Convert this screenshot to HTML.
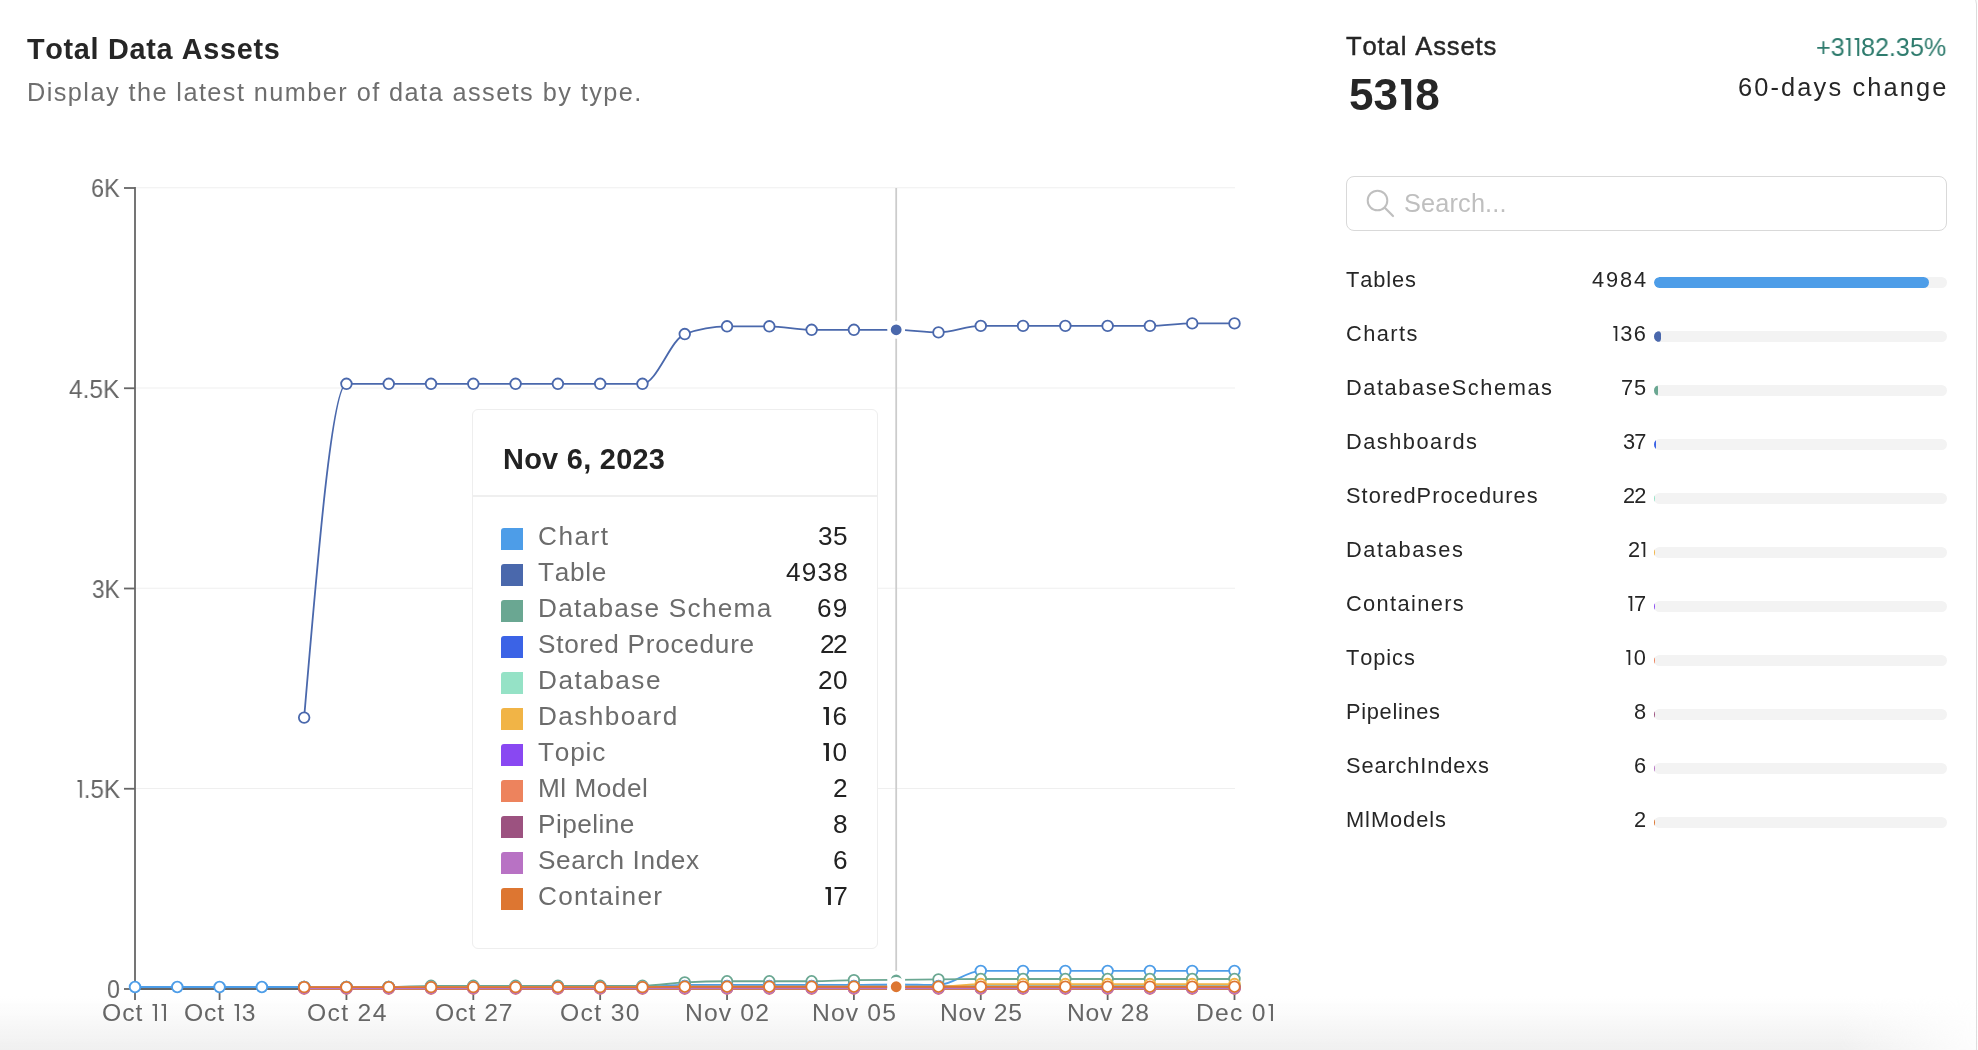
<!DOCTYPE html>
<html><head><meta charset="utf-8"><title>Total Data Assets</title>
<style>
*{box-sizing:border-box;margin:0;padding:0}
html,body{width:1978px;height:1050px;overflow:hidden;background:#fff;font-family:"Liberation Sans",sans-serif}
.page{position:relative;width:1978px;height:1050px;overflow:hidden;background:#fff}
.card{position:absolute;left:-30px;top:-7px;width:2007px;height:1120px;border:1px solid #dcdcdc;border-radius:11px;background:#fff}
.t{position:absolute;white-space:nowrap;will-change:transform;font-kerning:none}
.o{display:inline-block;position:relative;height:1px}
.o svg{position:absolute;left:0;bottom:0}
.chart{position:absolute;left:0;top:0}
.search{position:absolute;left:1346px;top:176px;width:601px;height:55px;border:1.5px solid #d9d9d9;border-radius:8px;background:#fff}
.bar{position:absolute;left:1654px;width:293px;height:11px;border-radius:6px;background:#f3f3f3;overflow:hidden}
.bar .fill{height:11px;border-radius:6px}
.tip{position:absolute;left:472px;top:408.5px;width:406px;height:540.5px;border:1.5px solid #eeeeee;border-radius:6px;background:#fff}
.tipdiv{position:absolute;left:473px;top:495px;width:404px;height:1.5px;background:#efefef}
.sw{position:absolute;left:501px;width:22px;height:22px;border-radius:3px 0 0 0}
.fade{position:absolute;left:0;top:996px;width:1978px;height:54px;background:linear-gradient(to bottom,rgba(240,240,240,0),rgba(240,240,240,0.3) 35%,rgba(240,240,240,0.7) 70%,rgba(240,240,240,1));-webkit-mask-image:linear-gradient(to right,#000 1840px,rgba(0,0,0,0.15) 1975px);mask-image:linear-gradient(to right,#000 1840px,rgba(0,0,0,0.15) 1975px);pointer-events:none}
</style></head><body><div class="page">
<div class="card"></div>
<div class="fade"></div>
<svg class="chart" width="1978" height="1050" viewBox="0 0 1978 1050">
<line x1="136.0" y1="788.45" x2="1235" y2="788.45" stroke="#efefef" stroke-width="1.1"/>
<line x1="136.0" y1="588.20" x2="1235" y2="588.20" stroke="#efefef" stroke-width="1.1"/>
<line x1="136.0" y1="387.95" x2="1235" y2="387.95" stroke="#efefef" stroke-width="1.1"/>
<line x1="136.0" y1="187.70" x2="1235" y2="187.70" stroke="#efefef" stroke-width="1.1"/>
<line x1="896.19" y1="188.00" x2="896.19" y2="989.00" stroke="#cccccc" stroke-width="1.8"/>
<line x1="135.0" y1="187.10" x2="135.0" y2="989.90" stroke="#666" stroke-width="1.8"/>
<line x1="134.1" y1="989.00" x2="1235.4" y2="989.00" stroke="#666" stroke-width="1.8"/>
<line x1="124.0" y1="989.00" x2="135.0" y2="989.00" stroke="#666" stroke-width="1.8"/>
<line x1="124.0" y1="788.75" x2="135.0" y2="788.75" stroke="#666" stroke-width="1.8"/>
<line x1="124.0" y1="588.50" x2="135.0" y2="588.50" stroke="#666" stroke-width="1.8"/>
<line x1="124.0" y1="388.25" x2="135.0" y2="388.25" stroke="#666" stroke-width="1.8"/>
<line x1="124.0" y1="188.00" x2="135.0" y2="188.00" stroke="#666" stroke-width="1.8"/>
<line x1="135.00" y1="989.00" x2="135.00" y2="1000.00" stroke="#666" stroke-width="1.8"/>
<line x1="219.58" y1="989.00" x2="219.58" y2="1000.00" stroke="#666" stroke-width="1.8"/>
<line x1="346.44" y1="989.00" x2="346.44" y2="1000.00" stroke="#666" stroke-width="1.8"/>
<line x1="473.31" y1="989.00" x2="473.31" y2="1000.00" stroke="#666" stroke-width="1.8"/>
<line x1="600.17" y1="989.00" x2="600.17" y2="1000.00" stroke="#666" stroke-width="1.8"/>
<line x1="727.04" y1="989.00" x2="727.04" y2="1000.00" stroke="#666" stroke-width="1.8"/>
<line x1="853.90" y1="989.00" x2="853.90" y2="1000.00" stroke="#666" stroke-width="1.8"/>
<line x1="980.77" y1="989.00" x2="980.77" y2="1000.00" stroke="#666" stroke-width="1.8"/>
<line x1="1107.63" y1="989.00" x2="1107.63" y2="1000.00" stroke="#666" stroke-width="1.8"/>
<line x1="1234.50" y1="989.00" x2="1234.50" y2="1000.00" stroke="#666" stroke-width="1.8"/>
<path d="M135.00,987.00C149.10,987.00,163.19,987.00,177.29,987.00C191.38,987.00,205.48,987.00,219.58,987.00C233.67,987.00,247.77,987.00,261.87,987.00C275.96,987.00,290.06,987.00,304.15,987.00C318.25,987.00,332.35,987.00,346.44,987.00C360.54,987.00,374.63,987.00,388.73,987.00C402.83,987.00,416.92,987.00,431.02,987.00C445.12,987.00,459.21,987.00,473.31,987.00C487.40,987.00,501.50,987.00,515.60,987.00C529.69,987.00,543.79,987.00,557.88,987.00C571.98,987.00,586.08,987.00,600.17,987.00C614.27,987.00,628.37,987.00,642.46,987.00C656.56,987.00,670.65,984.86,684.75,984.86C698.85,984.86,712.94,984.86,727.04,984.86C741.13,984.86,755.23,984.86,769.33,984.86C783.42,984.86,797.52,984.86,811.62,984.86C825.71,984.86,839.81,984.86,853.90,984.86C868.00,984.86,882.10,984.33,896.19,984.33C910.29,984.33,924.38,985.00,938.48,985.00C952.58,985.00,966.67,970.84,980.77,970.84C994.87,970.84,1008.96,970.84,1023.06,970.84C1037.15,970.84,1051.25,970.84,1065.35,970.84C1079.44,970.84,1093.54,970.84,1107.63,970.84C1121.73,970.84,1135.83,970.84,1149.92,970.84C1164.02,970.84,1178.12,970.84,1192.21,970.84C1206.31,970.84,1220.40,970.84,1234.50,970.84" fill="none" stroke="#4d9de8" stroke-width="1.8"/>
<circle cx="135.00" cy="987.00" r="5.3" fill="#fff" stroke="#4d9de8" stroke-width="1.8"/>
<circle cx="177.29" cy="987.00" r="5.3" fill="#fff" stroke="#4d9de8" stroke-width="1.8"/>
<circle cx="219.58" cy="987.00" r="5.3" fill="#fff" stroke="#4d9de8" stroke-width="1.8"/>
<circle cx="261.87" cy="987.00" r="5.3" fill="#fff" stroke="#4d9de8" stroke-width="1.8"/>
<circle cx="304.15" cy="987.00" r="5.3" fill="#fff" stroke="#4d9de8" stroke-width="1.8"/>
<circle cx="346.44" cy="987.00" r="5.3" fill="#fff" stroke="#4d9de8" stroke-width="1.8"/>
<circle cx="388.73" cy="987.00" r="5.3" fill="#fff" stroke="#4d9de8" stroke-width="1.8"/>
<circle cx="431.02" cy="987.00" r="5.3" fill="#fff" stroke="#4d9de8" stroke-width="1.8"/>
<circle cx="473.31" cy="987.00" r="5.3" fill="#fff" stroke="#4d9de8" stroke-width="1.8"/>
<circle cx="515.60" cy="987.00" r="5.3" fill="#fff" stroke="#4d9de8" stroke-width="1.8"/>
<circle cx="557.88" cy="987.00" r="5.3" fill="#fff" stroke="#4d9de8" stroke-width="1.8"/>
<circle cx="600.17" cy="987.00" r="5.3" fill="#fff" stroke="#4d9de8" stroke-width="1.8"/>
<circle cx="642.46" cy="987.00" r="5.3" fill="#fff" stroke="#4d9de8" stroke-width="1.8"/>
<circle cx="684.75" cy="984.86" r="5.3" fill="#fff" stroke="#4d9de8" stroke-width="1.8"/>
<circle cx="727.04" cy="984.86" r="5.3" fill="#fff" stroke="#4d9de8" stroke-width="1.8"/>
<circle cx="769.33" cy="984.86" r="5.3" fill="#fff" stroke="#4d9de8" stroke-width="1.8"/>
<circle cx="811.62" cy="984.86" r="5.3" fill="#fff" stroke="#4d9de8" stroke-width="1.8"/>
<circle cx="853.90" cy="984.86" r="5.3" fill="#fff" stroke="#4d9de8" stroke-width="1.8"/>
<circle cx="896.19" cy="984.33" r="7.2" fill="#4d9de8" stroke="#fff" stroke-width="3.6"/>
<circle cx="938.48" cy="985.00" r="5.3" fill="#fff" stroke="#4d9de8" stroke-width="1.8"/>
<circle cx="980.77" cy="970.84" r="5.3" fill="#fff" stroke="#4d9de8" stroke-width="1.8"/>
<circle cx="1023.06" cy="970.84" r="5.3" fill="#fff" stroke="#4d9de8" stroke-width="1.8"/>
<circle cx="1065.35" cy="970.84" r="5.3" fill="#fff" stroke="#4d9de8" stroke-width="1.8"/>
<circle cx="1107.63" cy="970.84" r="5.3" fill="#fff" stroke="#4d9de8" stroke-width="1.8"/>
<circle cx="1149.92" cy="970.84" r="5.3" fill="#fff" stroke="#4d9de8" stroke-width="1.8"/>
<circle cx="1192.21" cy="970.84" r="5.3" fill="#fff" stroke="#4d9de8" stroke-width="1.8"/>
<circle cx="1234.50" cy="970.84" r="5.3" fill="#fff" stroke="#4d9de8" stroke-width="1.8"/>
<path d="M304.15,717.60C318.25,550.70,332.35,383.80,346.44,383.80C360.54,383.80,374.63,383.80,388.73,383.80C402.83,383.80,416.92,383.80,431.02,383.80C445.12,383.80,459.21,383.80,473.31,383.80C487.40,383.80,501.50,383.80,515.60,383.80C529.69,383.80,543.79,383.80,557.88,383.80C571.98,383.80,586.08,383.80,600.17,383.80C614.27,383.80,628.37,383.80,642.46,383.80C656.56,383.80,670.65,339.22,684.75,334.05C698.85,328.88,712.94,326.30,727.04,326.30C741.13,326.30,755.23,326.30,769.33,326.30C783.42,326.30,797.52,329.80,811.62,329.80C825.71,329.80,839.81,329.80,853.90,329.80C868.00,329.80,882.10,329.80,896.19,329.80C910.29,329.80,924.38,332.40,938.48,332.40C952.58,332.40,966.67,325.90,980.77,325.90C994.87,325.90,1008.96,325.90,1023.06,325.90C1037.15,325.90,1051.25,325.90,1065.35,325.90C1079.44,325.90,1093.54,325.90,1107.63,325.90C1121.73,325.90,1135.83,325.90,1149.92,325.90C1164.02,325.90,1178.12,323.40,1192.21,323.40C1206.31,323.40,1220.40,323.40,1234.50,323.40" fill="none" stroke="#4a68ac" stroke-width="1.8"/>
<circle cx="304.15" cy="717.60" r="5.3" fill="#fff" stroke="#4a68ac" stroke-width="1.8"/>
<circle cx="346.44" cy="383.80" r="5.3" fill="#fff" stroke="#4a68ac" stroke-width="1.8"/>
<circle cx="388.73" cy="383.80" r="5.3" fill="#fff" stroke="#4a68ac" stroke-width="1.8"/>
<circle cx="431.02" cy="383.80" r="5.3" fill="#fff" stroke="#4a68ac" stroke-width="1.8"/>
<circle cx="473.31" cy="383.80" r="5.3" fill="#fff" stroke="#4a68ac" stroke-width="1.8"/>
<circle cx="515.60" cy="383.80" r="5.3" fill="#fff" stroke="#4a68ac" stroke-width="1.8"/>
<circle cx="557.88" cy="383.80" r="5.3" fill="#fff" stroke="#4a68ac" stroke-width="1.8"/>
<circle cx="600.17" cy="383.80" r="5.3" fill="#fff" stroke="#4a68ac" stroke-width="1.8"/>
<circle cx="642.46" cy="383.80" r="5.3" fill="#fff" stroke="#4a68ac" stroke-width="1.8"/>
<circle cx="684.75" cy="334.05" r="5.3" fill="#fff" stroke="#4a68ac" stroke-width="1.8"/>
<circle cx="727.04" cy="326.30" r="5.3" fill="#fff" stroke="#4a68ac" stroke-width="1.8"/>
<circle cx="769.33" cy="326.30" r="5.3" fill="#fff" stroke="#4a68ac" stroke-width="1.8"/>
<circle cx="811.62" cy="329.80" r="5.3" fill="#fff" stroke="#4a68ac" stroke-width="1.8"/>
<circle cx="853.90" cy="329.80" r="5.3" fill="#fff" stroke="#4a68ac" stroke-width="1.8"/>
<circle cx="896.19" cy="329.80" r="7.2" fill="#4a68ac" stroke="#fff" stroke-width="3.6"/>
<circle cx="938.48" cy="332.40" r="5.3" fill="#fff" stroke="#4a68ac" stroke-width="1.8"/>
<circle cx="980.77" cy="325.90" r="5.3" fill="#fff" stroke="#4a68ac" stroke-width="1.8"/>
<circle cx="1023.06" cy="325.90" r="5.3" fill="#fff" stroke="#4a68ac" stroke-width="1.8"/>
<circle cx="1065.35" cy="325.90" r="5.3" fill="#fff" stroke="#4a68ac" stroke-width="1.8"/>
<circle cx="1107.63" cy="325.90" r="5.3" fill="#fff" stroke="#4a68ac" stroke-width="1.8"/>
<circle cx="1149.92" cy="325.90" r="5.3" fill="#fff" stroke="#4a68ac" stroke-width="1.8"/>
<circle cx="1192.21" cy="323.40" r="5.3" fill="#fff" stroke="#4a68ac" stroke-width="1.8"/>
<circle cx="1234.50" cy="323.40" r="5.3" fill="#fff" stroke="#4a68ac" stroke-width="1.8"/>
<path d="M304.15,987.00C318.25,987.00,332.35,987.00,346.44,987.00C360.54,987.00,374.63,987.00,388.73,987.00C402.83,987.00,416.92,985.80,431.02,985.80C445.12,985.80,459.21,985.80,473.31,985.80C487.40,985.80,501.50,985.80,515.60,985.80C529.69,985.80,543.79,985.80,557.88,985.80C571.98,985.80,586.08,985.80,600.17,985.80C614.27,985.80,628.37,985.80,642.46,985.80C656.56,985.80,670.65,983.04,684.75,982.33C698.85,981.61,712.94,981.26,727.04,981.26C741.13,981.26,755.23,981.26,769.33,981.26C783.42,981.26,797.52,981.26,811.62,981.26C825.71,981.26,839.81,980.43,853.90,980.19C868.00,979.94,882.10,979.92,896.19,979.79C910.29,979.65,924.38,979.52,938.48,979.39C952.58,979.25,966.67,978.99,980.77,978.99C994.87,978.99,1008.96,978.99,1023.06,978.99C1037.15,978.99,1051.25,978.99,1065.35,978.99C1079.44,978.99,1093.54,978.99,1107.63,978.99C1121.73,978.99,1135.83,978.99,1149.92,978.99C1164.02,978.99,1178.12,978.99,1192.21,978.99C1206.31,978.99,1220.40,978.99,1234.50,978.99" fill="none" stroke="#6aa792" stroke-width="1.8"/>
<circle cx="304.15" cy="987.00" r="5.3" fill="#fff" stroke="#6aa792" stroke-width="1.8"/>
<circle cx="346.44" cy="987.00" r="5.3" fill="#fff" stroke="#6aa792" stroke-width="1.8"/>
<circle cx="388.73" cy="987.00" r="5.3" fill="#fff" stroke="#6aa792" stroke-width="1.8"/>
<circle cx="431.02" cy="985.80" r="5.3" fill="#fff" stroke="#6aa792" stroke-width="1.8"/>
<circle cx="473.31" cy="985.80" r="5.3" fill="#fff" stroke="#6aa792" stroke-width="1.8"/>
<circle cx="515.60" cy="985.80" r="5.3" fill="#fff" stroke="#6aa792" stroke-width="1.8"/>
<circle cx="557.88" cy="985.80" r="5.3" fill="#fff" stroke="#6aa792" stroke-width="1.8"/>
<circle cx="600.17" cy="985.80" r="5.3" fill="#fff" stroke="#6aa792" stroke-width="1.8"/>
<circle cx="642.46" cy="985.80" r="5.3" fill="#fff" stroke="#6aa792" stroke-width="1.8"/>
<circle cx="684.75" cy="982.33" r="5.3" fill="#fff" stroke="#6aa792" stroke-width="1.8"/>
<circle cx="727.04" cy="981.26" r="5.3" fill="#fff" stroke="#6aa792" stroke-width="1.8"/>
<circle cx="769.33" cy="981.26" r="5.3" fill="#fff" stroke="#6aa792" stroke-width="1.8"/>
<circle cx="811.62" cy="981.26" r="5.3" fill="#fff" stroke="#6aa792" stroke-width="1.8"/>
<circle cx="853.90" cy="980.19" r="5.3" fill="#fff" stroke="#6aa792" stroke-width="1.8"/>
<circle cx="896.19" cy="979.79" r="7.2" fill="#6aa792" stroke="#fff" stroke-width="3.6"/>
<circle cx="938.48" cy="979.39" r="5.3" fill="#fff" stroke="#6aa792" stroke-width="1.8"/>
<circle cx="980.77" cy="978.99" r="5.3" fill="#fff" stroke="#6aa792" stroke-width="1.8"/>
<circle cx="1023.06" cy="978.99" r="5.3" fill="#fff" stroke="#6aa792" stroke-width="1.8"/>
<circle cx="1065.35" cy="978.99" r="5.3" fill="#fff" stroke="#6aa792" stroke-width="1.8"/>
<circle cx="1107.63" cy="978.99" r="5.3" fill="#fff" stroke="#6aa792" stroke-width="1.8"/>
<circle cx="1149.92" cy="978.99" r="5.3" fill="#fff" stroke="#6aa792" stroke-width="1.8"/>
<circle cx="1192.21" cy="978.99" r="5.3" fill="#fff" stroke="#6aa792" stroke-width="1.8"/>
<circle cx="1234.50" cy="978.99" r="5.3" fill="#fff" stroke="#6aa792" stroke-width="1.8"/>
<path d="M304.15,987.00C318.25,987.00,332.35,987.00,346.44,987.00C360.54,987.00,374.63,987.00,388.73,987.00C402.83,987.00,416.92,987.00,431.02,987.00C445.12,987.00,459.21,987.00,473.31,987.00C487.40,987.00,501.50,987.00,515.60,987.00C529.69,987.00,543.79,987.00,557.88,987.00C571.98,987.00,586.08,987.00,600.17,987.00C614.27,987.00,628.37,987.00,642.46,987.00C656.56,987.00,670.65,986.06,684.75,986.06C698.85,986.06,712.94,986.06,727.04,986.06C741.13,986.06,755.23,986.06,769.33,986.06C783.42,986.06,797.52,986.06,811.62,986.06C825.71,986.06,839.81,986.06,853.90,986.06C868.00,986.06,882.10,986.06,896.19,986.06C910.29,986.06,924.38,986.06,938.48,986.06C952.58,986.06,966.67,986.06,980.77,986.06C994.87,986.06,1008.96,986.06,1023.06,986.06C1037.15,986.06,1051.25,986.06,1065.35,986.06C1079.44,986.06,1093.54,986.06,1107.63,986.06C1121.73,986.06,1135.83,986.06,1149.92,986.06C1164.02,986.06,1178.12,986.06,1192.21,986.06C1206.31,986.06,1220.40,986.06,1234.50,986.06" fill="none" stroke="#3b63e6" stroke-width="1.8"/>
<circle cx="304.15" cy="987.00" r="5.3" fill="#fff" stroke="#3b63e6" stroke-width="1.8"/>
<circle cx="346.44" cy="987.00" r="5.3" fill="#fff" stroke="#3b63e6" stroke-width="1.8"/>
<circle cx="388.73" cy="987.00" r="5.3" fill="#fff" stroke="#3b63e6" stroke-width="1.8"/>
<circle cx="431.02" cy="987.00" r="5.3" fill="#fff" stroke="#3b63e6" stroke-width="1.8"/>
<circle cx="473.31" cy="987.00" r="5.3" fill="#fff" stroke="#3b63e6" stroke-width="1.8"/>
<circle cx="515.60" cy="987.00" r="5.3" fill="#fff" stroke="#3b63e6" stroke-width="1.8"/>
<circle cx="557.88" cy="987.00" r="5.3" fill="#fff" stroke="#3b63e6" stroke-width="1.8"/>
<circle cx="600.17" cy="987.00" r="5.3" fill="#fff" stroke="#3b63e6" stroke-width="1.8"/>
<circle cx="642.46" cy="987.00" r="5.3" fill="#fff" stroke="#3b63e6" stroke-width="1.8"/>
<circle cx="684.75" cy="986.06" r="5.3" fill="#fff" stroke="#3b63e6" stroke-width="1.8"/>
<circle cx="727.04" cy="986.06" r="5.3" fill="#fff" stroke="#3b63e6" stroke-width="1.8"/>
<circle cx="769.33" cy="986.06" r="5.3" fill="#fff" stroke="#3b63e6" stroke-width="1.8"/>
<circle cx="811.62" cy="986.06" r="5.3" fill="#fff" stroke="#3b63e6" stroke-width="1.8"/>
<circle cx="853.90" cy="986.06" r="5.3" fill="#fff" stroke="#3b63e6" stroke-width="1.8"/>
<circle cx="896.19" cy="986.06" r="7.2" fill="#3b63e6" stroke="#fff" stroke-width="3.6"/>
<circle cx="938.48" cy="986.06" r="5.3" fill="#fff" stroke="#3b63e6" stroke-width="1.8"/>
<circle cx="980.77" cy="986.06" r="5.3" fill="#fff" stroke="#3b63e6" stroke-width="1.8"/>
<circle cx="1023.06" cy="986.06" r="5.3" fill="#fff" stroke="#3b63e6" stroke-width="1.8"/>
<circle cx="1065.35" cy="986.06" r="5.3" fill="#fff" stroke="#3b63e6" stroke-width="1.8"/>
<circle cx="1107.63" cy="986.06" r="5.3" fill="#fff" stroke="#3b63e6" stroke-width="1.8"/>
<circle cx="1149.92" cy="986.06" r="5.3" fill="#fff" stroke="#3b63e6" stroke-width="1.8"/>
<circle cx="1192.21" cy="986.06" r="5.3" fill="#fff" stroke="#3b63e6" stroke-width="1.8"/>
<circle cx="1234.50" cy="986.06" r="5.3" fill="#fff" stroke="#3b63e6" stroke-width="1.8"/>
<path d="M304.15,987.00C318.25,987.00,332.35,987.00,346.44,987.00C360.54,987.00,374.63,987.00,388.73,987.00C402.83,987.00,416.92,987.00,431.02,987.00C445.12,987.00,459.21,987.00,473.31,987.00C487.40,987.00,501.50,987.00,515.60,987.00C529.69,987.00,543.79,987.00,557.88,987.00C571.98,987.00,586.08,987.00,600.17,987.00C614.27,987.00,628.37,987.00,642.46,987.00C656.56,987.00,670.65,986.33,684.75,986.33C698.85,986.33,712.94,986.33,727.04,986.33C741.13,986.33,755.23,986.33,769.33,986.33C783.42,986.33,797.52,986.33,811.62,986.33C825.71,986.33,839.81,986.33,853.90,986.33C868.00,986.33,882.10,986.33,896.19,986.33C910.29,986.33,924.38,986.33,938.48,986.33C952.58,986.33,966.67,986.20,980.77,986.20C994.87,986.20,1008.96,986.20,1023.06,986.20C1037.15,986.20,1051.25,986.20,1065.35,986.20C1079.44,986.20,1093.54,986.20,1107.63,986.20C1121.73,986.20,1135.83,986.20,1149.92,986.20C1164.02,986.20,1178.12,986.20,1192.21,986.20C1206.31,986.20,1220.40,986.20,1234.50,986.20" fill="none" stroke="#95e2c6" stroke-width="1.8"/>
<circle cx="304.15" cy="987.00" r="5.3" fill="#fff" stroke="#95e2c6" stroke-width="1.8"/>
<circle cx="346.44" cy="987.00" r="5.3" fill="#fff" stroke="#95e2c6" stroke-width="1.8"/>
<circle cx="388.73" cy="987.00" r="5.3" fill="#fff" stroke="#95e2c6" stroke-width="1.8"/>
<circle cx="431.02" cy="987.00" r="5.3" fill="#fff" stroke="#95e2c6" stroke-width="1.8"/>
<circle cx="473.31" cy="987.00" r="5.3" fill="#fff" stroke="#95e2c6" stroke-width="1.8"/>
<circle cx="515.60" cy="987.00" r="5.3" fill="#fff" stroke="#95e2c6" stroke-width="1.8"/>
<circle cx="557.88" cy="987.00" r="5.3" fill="#fff" stroke="#95e2c6" stroke-width="1.8"/>
<circle cx="600.17" cy="987.00" r="5.3" fill="#fff" stroke="#95e2c6" stroke-width="1.8"/>
<circle cx="642.46" cy="987.00" r="5.3" fill="#fff" stroke="#95e2c6" stroke-width="1.8"/>
<circle cx="684.75" cy="986.33" r="5.3" fill="#fff" stroke="#95e2c6" stroke-width="1.8"/>
<circle cx="727.04" cy="986.33" r="5.3" fill="#fff" stroke="#95e2c6" stroke-width="1.8"/>
<circle cx="769.33" cy="986.33" r="5.3" fill="#fff" stroke="#95e2c6" stroke-width="1.8"/>
<circle cx="811.62" cy="986.33" r="5.3" fill="#fff" stroke="#95e2c6" stroke-width="1.8"/>
<circle cx="853.90" cy="986.33" r="5.3" fill="#fff" stroke="#95e2c6" stroke-width="1.8"/>
<circle cx="896.19" cy="986.33" r="7.2" fill="#95e2c6" stroke="#fff" stroke-width="3.6"/>
<circle cx="938.48" cy="986.33" r="5.3" fill="#fff" stroke="#95e2c6" stroke-width="1.8"/>
<circle cx="980.77" cy="986.20" r="5.3" fill="#fff" stroke="#95e2c6" stroke-width="1.8"/>
<circle cx="1023.06" cy="986.20" r="5.3" fill="#fff" stroke="#95e2c6" stroke-width="1.8"/>
<circle cx="1065.35" cy="986.20" r="5.3" fill="#fff" stroke="#95e2c6" stroke-width="1.8"/>
<circle cx="1107.63" cy="986.20" r="5.3" fill="#fff" stroke="#95e2c6" stroke-width="1.8"/>
<circle cx="1149.92" cy="986.20" r="5.3" fill="#fff" stroke="#95e2c6" stroke-width="1.8"/>
<circle cx="1192.21" cy="986.20" r="5.3" fill="#fff" stroke="#95e2c6" stroke-width="1.8"/>
<circle cx="1234.50" cy="986.20" r="5.3" fill="#fff" stroke="#95e2c6" stroke-width="1.8"/>
<path d="M304.15,987.40C318.25,987.40,332.35,987.40,346.44,987.40C360.54,987.40,374.63,987.40,388.73,987.40C402.83,987.40,416.92,987.40,431.02,987.40C445.12,987.40,459.21,987.40,473.31,987.40C487.40,987.40,501.50,987.40,515.60,987.40C529.69,987.40,543.79,987.40,557.88,987.40C571.98,987.40,586.08,987.40,600.17,987.40C614.27,987.40,628.37,987.40,642.46,987.40C656.56,987.40,670.65,986.86,684.75,986.86C698.85,986.86,712.94,986.86,727.04,986.86C741.13,986.86,755.23,986.86,769.33,986.86C783.42,986.86,797.52,986.86,811.62,986.86C825.71,986.86,839.81,986.86,853.90,986.86C868.00,986.86,882.10,986.86,896.19,986.86C910.29,986.86,924.38,986.86,938.48,986.86C952.58,986.86,966.67,984.06,980.77,984.06C994.87,984.06,1008.96,984.06,1023.06,984.06C1037.15,984.06,1051.25,984.06,1065.35,984.06C1079.44,984.06,1093.54,984.06,1107.63,984.06C1121.73,984.06,1135.83,984.06,1149.92,984.06C1164.02,984.06,1178.12,984.06,1192.21,984.06C1206.31,984.06,1220.40,984.06,1234.50,984.06" fill="none" stroke="#f1b446" stroke-width="1.8"/>
<circle cx="304.15" cy="987.40" r="5.3" fill="#fff" stroke="#f1b446" stroke-width="1.8"/>
<circle cx="346.44" cy="987.40" r="5.3" fill="#fff" stroke="#f1b446" stroke-width="1.8"/>
<circle cx="388.73" cy="987.40" r="5.3" fill="#fff" stroke="#f1b446" stroke-width="1.8"/>
<circle cx="431.02" cy="987.40" r="5.3" fill="#fff" stroke="#f1b446" stroke-width="1.8"/>
<circle cx="473.31" cy="987.40" r="5.3" fill="#fff" stroke="#f1b446" stroke-width="1.8"/>
<circle cx="515.60" cy="987.40" r="5.3" fill="#fff" stroke="#f1b446" stroke-width="1.8"/>
<circle cx="557.88" cy="987.40" r="5.3" fill="#fff" stroke="#f1b446" stroke-width="1.8"/>
<circle cx="600.17" cy="987.40" r="5.3" fill="#fff" stroke="#f1b446" stroke-width="1.8"/>
<circle cx="642.46" cy="987.40" r="5.3" fill="#fff" stroke="#f1b446" stroke-width="1.8"/>
<circle cx="684.75" cy="986.86" r="5.3" fill="#fff" stroke="#f1b446" stroke-width="1.8"/>
<circle cx="727.04" cy="986.86" r="5.3" fill="#fff" stroke="#f1b446" stroke-width="1.8"/>
<circle cx="769.33" cy="986.86" r="5.3" fill="#fff" stroke="#f1b446" stroke-width="1.8"/>
<circle cx="811.62" cy="986.86" r="5.3" fill="#fff" stroke="#f1b446" stroke-width="1.8"/>
<circle cx="853.90" cy="986.86" r="5.3" fill="#fff" stroke="#f1b446" stroke-width="1.8"/>
<circle cx="896.19" cy="986.86" r="7.2" fill="#f1b446" stroke="#fff" stroke-width="3.6"/>
<circle cx="938.48" cy="986.86" r="5.3" fill="#fff" stroke="#f1b446" stroke-width="1.8"/>
<circle cx="980.77" cy="984.06" r="5.3" fill="#fff" stroke="#f1b446" stroke-width="1.8"/>
<circle cx="1023.06" cy="984.06" r="5.3" fill="#fff" stroke="#f1b446" stroke-width="1.8"/>
<circle cx="1065.35" cy="984.06" r="5.3" fill="#fff" stroke="#f1b446" stroke-width="1.8"/>
<circle cx="1107.63" cy="984.06" r="5.3" fill="#fff" stroke="#f1b446" stroke-width="1.8"/>
<circle cx="1149.92" cy="984.06" r="5.3" fill="#fff" stroke="#f1b446" stroke-width="1.8"/>
<circle cx="1192.21" cy="984.06" r="5.3" fill="#fff" stroke="#f1b446" stroke-width="1.8"/>
<circle cx="1234.50" cy="984.06" r="5.3" fill="#fff" stroke="#f1b446" stroke-width="1.8"/>
<path d="M304.15,987.66C318.25,987.66,332.35,987.66,346.44,987.66C360.54,987.66,374.63,987.66,388.73,987.66C402.83,987.66,416.92,987.66,431.02,987.66C445.12,987.66,459.21,987.66,473.31,987.66C487.40,987.66,501.50,987.66,515.60,987.66C529.69,987.66,543.79,987.66,557.88,987.66C571.98,987.66,586.08,987.66,600.17,987.66C614.27,987.66,628.37,987.66,642.46,987.66C656.56,987.66,670.65,987.66,684.75,987.66C698.85,987.66,712.94,987.66,727.04,987.66C741.13,987.66,755.23,987.66,769.33,987.66C783.42,987.66,797.52,987.66,811.62,987.66C825.71,987.66,839.81,987.66,853.90,987.66C868.00,987.66,882.10,987.66,896.19,987.66C910.29,987.66,924.38,987.66,938.48,987.66C952.58,987.66,966.67,987.66,980.77,987.66C994.87,987.66,1008.96,987.66,1023.06,987.66C1037.15,987.66,1051.25,987.66,1065.35,987.66C1079.44,987.66,1093.54,987.66,1107.63,987.66C1121.73,987.66,1135.83,987.66,1149.92,987.66C1164.02,987.66,1178.12,987.66,1192.21,987.66C1206.31,987.66,1220.40,987.66,1234.50,987.66" fill="none" stroke="#8948f2" stroke-width="1.8"/>
<circle cx="304.15" cy="987.66" r="5.3" fill="#fff" stroke="#8948f2" stroke-width="1.8"/>
<circle cx="346.44" cy="987.66" r="5.3" fill="#fff" stroke="#8948f2" stroke-width="1.8"/>
<circle cx="388.73" cy="987.66" r="5.3" fill="#fff" stroke="#8948f2" stroke-width="1.8"/>
<circle cx="431.02" cy="987.66" r="5.3" fill="#fff" stroke="#8948f2" stroke-width="1.8"/>
<circle cx="473.31" cy="987.66" r="5.3" fill="#fff" stroke="#8948f2" stroke-width="1.8"/>
<circle cx="515.60" cy="987.66" r="5.3" fill="#fff" stroke="#8948f2" stroke-width="1.8"/>
<circle cx="557.88" cy="987.66" r="5.3" fill="#fff" stroke="#8948f2" stroke-width="1.8"/>
<circle cx="600.17" cy="987.66" r="5.3" fill="#fff" stroke="#8948f2" stroke-width="1.8"/>
<circle cx="642.46" cy="987.66" r="5.3" fill="#fff" stroke="#8948f2" stroke-width="1.8"/>
<circle cx="684.75" cy="987.66" r="5.3" fill="#fff" stroke="#8948f2" stroke-width="1.8"/>
<circle cx="727.04" cy="987.66" r="5.3" fill="#fff" stroke="#8948f2" stroke-width="1.8"/>
<circle cx="769.33" cy="987.66" r="5.3" fill="#fff" stroke="#8948f2" stroke-width="1.8"/>
<circle cx="811.62" cy="987.66" r="5.3" fill="#fff" stroke="#8948f2" stroke-width="1.8"/>
<circle cx="853.90" cy="987.66" r="5.3" fill="#fff" stroke="#8948f2" stroke-width="1.8"/>
<circle cx="896.19" cy="987.66" r="7.2" fill="#8948f2" stroke="#fff" stroke-width="3.6"/>
<circle cx="938.48" cy="987.66" r="5.3" fill="#fff" stroke="#8948f2" stroke-width="1.8"/>
<circle cx="980.77" cy="987.66" r="5.3" fill="#fff" stroke="#8948f2" stroke-width="1.8"/>
<circle cx="1023.06" cy="987.66" r="5.3" fill="#fff" stroke="#8948f2" stroke-width="1.8"/>
<circle cx="1065.35" cy="987.66" r="5.3" fill="#fff" stroke="#8948f2" stroke-width="1.8"/>
<circle cx="1107.63" cy="987.66" r="5.3" fill="#fff" stroke="#8948f2" stroke-width="1.8"/>
<circle cx="1149.92" cy="987.66" r="5.3" fill="#fff" stroke="#8948f2" stroke-width="1.8"/>
<circle cx="1192.21" cy="987.66" r="5.3" fill="#fff" stroke="#8948f2" stroke-width="1.8"/>
<circle cx="1234.50" cy="987.66" r="5.3" fill="#fff" stroke="#8948f2" stroke-width="1.8"/>
<path d="M304.15,988.73C318.25,988.73,332.35,988.73,346.44,988.73C360.54,988.73,374.63,988.73,388.73,988.73C402.83,988.73,416.92,988.73,431.02,988.73C445.12,988.73,459.21,988.73,473.31,988.73C487.40,988.73,501.50,988.73,515.60,988.73C529.69,988.73,543.79,988.73,557.88,988.73C571.98,988.73,586.08,988.73,600.17,988.73C614.27,988.73,628.37,988.73,642.46,988.73C656.56,988.73,670.65,988.73,684.75,988.73C698.85,988.73,712.94,988.73,727.04,988.73C741.13,988.73,755.23,988.73,769.33,988.73C783.42,988.73,797.52,988.73,811.62,988.73C825.71,988.73,839.81,988.73,853.90,988.73C868.00,988.73,882.10,988.73,896.19,988.73C910.29,988.73,924.38,988.73,938.48,988.73C952.58,988.73,966.67,988.73,980.77,988.73C994.87,988.73,1008.96,988.73,1023.06,988.73C1037.15,988.73,1051.25,988.73,1065.35,988.73C1079.44,988.73,1093.54,988.73,1107.63,988.73C1121.73,988.73,1135.83,988.73,1149.92,988.73C1164.02,988.73,1178.12,988.73,1192.21,988.73C1206.31,988.73,1220.40,988.73,1234.50,988.73" fill="none" stroke="#ed835d" stroke-width="1.8"/>
<circle cx="304.15" cy="988.73" r="5.3" fill="#fff" stroke="#ed835d" stroke-width="1.8"/>
<circle cx="346.44" cy="988.73" r="5.3" fill="#fff" stroke="#ed835d" stroke-width="1.8"/>
<circle cx="388.73" cy="988.73" r="5.3" fill="#fff" stroke="#ed835d" stroke-width="1.8"/>
<circle cx="431.02" cy="988.73" r="5.3" fill="#fff" stroke="#ed835d" stroke-width="1.8"/>
<circle cx="473.31" cy="988.73" r="5.3" fill="#fff" stroke="#ed835d" stroke-width="1.8"/>
<circle cx="515.60" cy="988.73" r="5.3" fill="#fff" stroke="#ed835d" stroke-width="1.8"/>
<circle cx="557.88" cy="988.73" r="5.3" fill="#fff" stroke="#ed835d" stroke-width="1.8"/>
<circle cx="600.17" cy="988.73" r="5.3" fill="#fff" stroke="#ed835d" stroke-width="1.8"/>
<circle cx="642.46" cy="988.73" r="5.3" fill="#fff" stroke="#ed835d" stroke-width="1.8"/>
<circle cx="684.75" cy="988.73" r="5.3" fill="#fff" stroke="#ed835d" stroke-width="1.8"/>
<circle cx="727.04" cy="988.73" r="5.3" fill="#fff" stroke="#ed835d" stroke-width="1.8"/>
<circle cx="769.33" cy="988.73" r="5.3" fill="#fff" stroke="#ed835d" stroke-width="1.8"/>
<circle cx="811.62" cy="988.73" r="5.3" fill="#fff" stroke="#ed835d" stroke-width="1.8"/>
<circle cx="853.90" cy="988.73" r="5.3" fill="#fff" stroke="#ed835d" stroke-width="1.8"/>
<circle cx="896.19" cy="988.73" r="7.2" fill="#ed835d" stroke="#fff" stroke-width="3.6"/>
<circle cx="938.48" cy="988.73" r="5.3" fill="#fff" stroke="#ed835d" stroke-width="1.8"/>
<circle cx="980.77" cy="988.73" r="5.3" fill="#fff" stroke="#ed835d" stroke-width="1.8"/>
<circle cx="1023.06" cy="988.73" r="5.3" fill="#fff" stroke="#ed835d" stroke-width="1.8"/>
<circle cx="1065.35" cy="988.73" r="5.3" fill="#fff" stroke="#ed835d" stroke-width="1.8"/>
<circle cx="1107.63" cy="988.73" r="5.3" fill="#fff" stroke="#ed835d" stroke-width="1.8"/>
<circle cx="1149.92" cy="988.73" r="5.3" fill="#fff" stroke="#ed835d" stroke-width="1.8"/>
<circle cx="1192.21" cy="988.73" r="5.3" fill="#fff" stroke="#ed835d" stroke-width="1.8"/>
<circle cx="1234.50" cy="988.73" r="5.3" fill="#fff" stroke="#ed835d" stroke-width="1.8"/>
<path d="M304.15,987.93C318.25,987.93,332.35,987.93,346.44,987.93C360.54,987.93,374.63,987.93,388.73,987.93C402.83,987.93,416.92,987.93,431.02,987.93C445.12,987.93,459.21,987.93,473.31,987.93C487.40,987.93,501.50,987.93,515.60,987.93C529.69,987.93,543.79,987.93,557.88,987.93C571.98,987.93,586.08,987.93,600.17,987.93C614.27,987.93,628.37,987.93,642.46,987.93C656.56,987.93,670.65,987.93,684.75,987.93C698.85,987.93,712.94,987.93,727.04,987.93C741.13,987.93,755.23,987.93,769.33,987.93C783.42,987.93,797.52,987.93,811.62,987.93C825.71,987.93,839.81,987.93,853.90,987.93C868.00,987.93,882.10,987.93,896.19,987.93C910.29,987.93,924.38,987.93,938.48,987.93C952.58,987.93,966.67,987.93,980.77,987.93C994.87,987.93,1008.96,987.93,1023.06,987.93C1037.15,987.93,1051.25,987.93,1065.35,987.93C1079.44,987.93,1093.54,987.93,1107.63,987.93C1121.73,987.93,1135.83,987.93,1149.92,987.93C1164.02,987.93,1178.12,987.93,1192.21,987.93C1206.31,987.93,1220.40,987.93,1234.50,987.93" fill="none" stroke="#9c5280" stroke-width="1.8"/>
<circle cx="304.15" cy="987.93" r="5.3" fill="#fff" stroke="#9c5280" stroke-width="1.8"/>
<circle cx="346.44" cy="987.93" r="5.3" fill="#fff" stroke="#9c5280" stroke-width="1.8"/>
<circle cx="388.73" cy="987.93" r="5.3" fill="#fff" stroke="#9c5280" stroke-width="1.8"/>
<circle cx="431.02" cy="987.93" r="5.3" fill="#fff" stroke="#9c5280" stroke-width="1.8"/>
<circle cx="473.31" cy="987.93" r="5.3" fill="#fff" stroke="#9c5280" stroke-width="1.8"/>
<circle cx="515.60" cy="987.93" r="5.3" fill="#fff" stroke="#9c5280" stroke-width="1.8"/>
<circle cx="557.88" cy="987.93" r="5.3" fill="#fff" stroke="#9c5280" stroke-width="1.8"/>
<circle cx="600.17" cy="987.93" r="5.3" fill="#fff" stroke="#9c5280" stroke-width="1.8"/>
<circle cx="642.46" cy="987.93" r="5.3" fill="#fff" stroke="#9c5280" stroke-width="1.8"/>
<circle cx="684.75" cy="987.93" r="5.3" fill="#fff" stroke="#9c5280" stroke-width="1.8"/>
<circle cx="727.04" cy="987.93" r="5.3" fill="#fff" stroke="#9c5280" stroke-width="1.8"/>
<circle cx="769.33" cy="987.93" r="5.3" fill="#fff" stroke="#9c5280" stroke-width="1.8"/>
<circle cx="811.62" cy="987.93" r="5.3" fill="#fff" stroke="#9c5280" stroke-width="1.8"/>
<circle cx="853.90" cy="987.93" r="5.3" fill="#fff" stroke="#9c5280" stroke-width="1.8"/>
<circle cx="896.19" cy="987.93" r="7.2" fill="#9c5280" stroke="#fff" stroke-width="3.6"/>
<circle cx="938.48" cy="987.93" r="5.3" fill="#fff" stroke="#9c5280" stroke-width="1.8"/>
<circle cx="980.77" cy="987.93" r="5.3" fill="#fff" stroke="#9c5280" stroke-width="1.8"/>
<circle cx="1023.06" cy="987.93" r="5.3" fill="#fff" stroke="#9c5280" stroke-width="1.8"/>
<circle cx="1065.35" cy="987.93" r="5.3" fill="#fff" stroke="#9c5280" stroke-width="1.8"/>
<circle cx="1107.63" cy="987.93" r="5.3" fill="#fff" stroke="#9c5280" stroke-width="1.8"/>
<circle cx="1149.92" cy="987.93" r="5.3" fill="#fff" stroke="#9c5280" stroke-width="1.8"/>
<circle cx="1192.21" cy="987.93" r="5.3" fill="#fff" stroke="#9c5280" stroke-width="1.8"/>
<circle cx="1234.50" cy="987.93" r="5.3" fill="#fff" stroke="#9c5280" stroke-width="1.8"/>
<path d="M304.15,988.20C318.25,988.20,332.35,988.20,346.44,988.20C360.54,988.20,374.63,988.20,388.73,988.20C402.83,988.20,416.92,988.20,431.02,988.20C445.12,988.20,459.21,988.20,473.31,988.20C487.40,988.20,501.50,988.20,515.60,988.20C529.69,988.20,543.79,988.20,557.88,988.20C571.98,988.20,586.08,988.20,600.17,988.20C614.27,988.20,628.37,988.20,642.46,988.20C656.56,988.20,670.65,988.20,684.75,988.20C698.85,988.20,712.94,988.20,727.04,988.20C741.13,988.20,755.23,988.20,769.33,988.20C783.42,988.20,797.52,988.20,811.62,988.20C825.71,988.20,839.81,988.20,853.90,988.20C868.00,988.20,882.10,988.20,896.19,988.20C910.29,988.20,924.38,988.20,938.48,988.20C952.58,988.20,966.67,988.20,980.77,988.20C994.87,988.20,1008.96,988.20,1023.06,988.20C1037.15,988.20,1051.25,988.20,1065.35,988.20C1079.44,988.20,1093.54,988.20,1107.63,988.20C1121.73,988.20,1135.83,988.20,1149.92,988.20C1164.02,988.20,1178.12,988.20,1192.21,988.20C1206.31,988.20,1220.40,988.20,1234.50,988.20" fill="none" stroke="#b872c4" stroke-width="1.8"/>
<circle cx="304.15" cy="988.20" r="5.3" fill="#fff" stroke="#b872c4" stroke-width="1.8"/>
<circle cx="346.44" cy="988.20" r="5.3" fill="#fff" stroke="#b872c4" stroke-width="1.8"/>
<circle cx="388.73" cy="988.20" r="5.3" fill="#fff" stroke="#b872c4" stroke-width="1.8"/>
<circle cx="431.02" cy="988.20" r="5.3" fill="#fff" stroke="#b872c4" stroke-width="1.8"/>
<circle cx="473.31" cy="988.20" r="5.3" fill="#fff" stroke="#b872c4" stroke-width="1.8"/>
<circle cx="515.60" cy="988.20" r="5.3" fill="#fff" stroke="#b872c4" stroke-width="1.8"/>
<circle cx="557.88" cy="988.20" r="5.3" fill="#fff" stroke="#b872c4" stroke-width="1.8"/>
<circle cx="600.17" cy="988.20" r="5.3" fill="#fff" stroke="#b872c4" stroke-width="1.8"/>
<circle cx="642.46" cy="988.20" r="5.3" fill="#fff" stroke="#b872c4" stroke-width="1.8"/>
<circle cx="684.75" cy="988.20" r="5.3" fill="#fff" stroke="#b872c4" stroke-width="1.8"/>
<circle cx="727.04" cy="988.20" r="5.3" fill="#fff" stroke="#b872c4" stroke-width="1.8"/>
<circle cx="769.33" cy="988.20" r="5.3" fill="#fff" stroke="#b872c4" stroke-width="1.8"/>
<circle cx="811.62" cy="988.20" r="5.3" fill="#fff" stroke="#b872c4" stroke-width="1.8"/>
<circle cx="853.90" cy="988.20" r="5.3" fill="#fff" stroke="#b872c4" stroke-width="1.8"/>
<circle cx="896.19" cy="988.20" r="7.2" fill="#b872c4" stroke="#fff" stroke-width="3.6"/>
<circle cx="938.48" cy="988.20" r="5.3" fill="#fff" stroke="#b872c4" stroke-width="1.8"/>
<circle cx="980.77" cy="988.20" r="5.3" fill="#fff" stroke="#b872c4" stroke-width="1.8"/>
<circle cx="1023.06" cy="988.20" r="5.3" fill="#fff" stroke="#b872c4" stroke-width="1.8"/>
<circle cx="1065.35" cy="988.20" r="5.3" fill="#fff" stroke="#b872c4" stroke-width="1.8"/>
<circle cx="1107.63" cy="988.20" r="5.3" fill="#fff" stroke="#b872c4" stroke-width="1.8"/>
<circle cx="1149.92" cy="988.20" r="5.3" fill="#fff" stroke="#b872c4" stroke-width="1.8"/>
<circle cx="1192.21" cy="988.20" r="5.3" fill="#fff" stroke="#b872c4" stroke-width="1.8"/>
<circle cx="1234.50" cy="988.20" r="5.3" fill="#fff" stroke="#b872c4" stroke-width="1.8"/>
<path d="M304.15,987.13C318.25,987.13,332.35,987.13,346.44,987.13C360.54,987.13,374.63,987.13,388.73,987.13C402.83,987.13,416.92,987.13,431.02,987.13C445.12,987.13,459.21,987.13,473.31,987.13C487.40,987.13,501.50,987.13,515.60,987.13C529.69,987.13,543.79,987.13,557.88,987.13C571.98,987.13,586.08,987.13,600.17,987.13C614.27,987.13,628.37,987.13,642.46,987.13C656.56,987.13,670.65,986.73,684.75,986.73C698.85,986.73,712.94,986.73,727.04,986.73C741.13,986.73,755.23,986.73,769.33,986.73C783.42,986.73,797.52,986.73,811.62,986.73C825.71,986.73,839.81,986.73,853.90,986.73C868.00,986.73,882.10,986.73,896.19,986.73C910.29,986.73,924.38,986.73,938.48,986.73C952.58,986.73,966.67,986.73,980.77,986.73C994.87,986.73,1008.96,986.73,1023.06,986.73C1037.15,986.73,1051.25,986.73,1065.35,986.73C1079.44,986.73,1093.54,986.73,1107.63,986.73C1121.73,986.73,1135.83,986.73,1149.92,986.73C1164.02,986.73,1178.12,986.73,1192.21,986.73C1206.31,986.73,1220.40,986.73,1234.50,986.73" fill="none" stroke="#dd7631" stroke-width="1.8"/>
<circle cx="304.15" cy="987.13" r="5.3" fill="#fff" stroke="#dd7631" stroke-width="1.8"/>
<circle cx="346.44" cy="987.13" r="5.3" fill="#fff" stroke="#dd7631" stroke-width="1.8"/>
<circle cx="388.73" cy="987.13" r="5.3" fill="#fff" stroke="#dd7631" stroke-width="1.8"/>
<circle cx="431.02" cy="987.13" r="5.3" fill="#fff" stroke="#dd7631" stroke-width="1.8"/>
<circle cx="473.31" cy="987.13" r="5.3" fill="#fff" stroke="#dd7631" stroke-width="1.8"/>
<circle cx="515.60" cy="987.13" r="5.3" fill="#fff" stroke="#dd7631" stroke-width="1.8"/>
<circle cx="557.88" cy="987.13" r="5.3" fill="#fff" stroke="#dd7631" stroke-width="1.8"/>
<circle cx="600.17" cy="987.13" r="5.3" fill="#fff" stroke="#dd7631" stroke-width="1.8"/>
<circle cx="642.46" cy="987.13" r="5.3" fill="#fff" stroke="#dd7631" stroke-width="1.8"/>
<circle cx="684.75" cy="986.73" r="5.3" fill="#fff" stroke="#dd7631" stroke-width="1.8"/>
<circle cx="727.04" cy="986.73" r="5.3" fill="#fff" stroke="#dd7631" stroke-width="1.8"/>
<circle cx="769.33" cy="986.73" r="5.3" fill="#fff" stroke="#dd7631" stroke-width="1.8"/>
<circle cx="811.62" cy="986.73" r="5.3" fill="#fff" stroke="#dd7631" stroke-width="1.8"/>
<circle cx="853.90" cy="986.73" r="5.3" fill="#fff" stroke="#dd7631" stroke-width="1.8"/>
<circle cx="896.19" cy="986.73" r="7.2" fill="#dd7631" stroke="#fff" stroke-width="3.6"/>
<circle cx="938.48" cy="986.73" r="5.3" fill="#fff" stroke="#dd7631" stroke-width="1.8"/>
<circle cx="980.77" cy="986.73" r="5.3" fill="#fff" stroke="#dd7631" stroke-width="1.8"/>
<circle cx="1023.06" cy="986.73" r="5.3" fill="#fff" stroke="#dd7631" stroke-width="1.8"/>
<circle cx="1065.35" cy="986.73" r="5.3" fill="#fff" stroke="#dd7631" stroke-width="1.8"/>
<circle cx="1107.63" cy="986.73" r="5.3" fill="#fff" stroke="#dd7631" stroke-width="1.8"/>
<circle cx="1149.92" cy="986.73" r="5.3" fill="#fff" stroke="#dd7631" stroke-width="1.8"/>
<circle cx="1192.21" cy="986.73" r="5.3" fill="#fff" stroke="#dd7631" stroke-width="1.8"/>
<circle cx="1234.50" cy="986.73" r="5.3" fill="#fff" stroke="#dd7631" stroke-width="1.8"/>
</svg>
<div class="t" style="left:27.30px;top:35.00px;font-size:28.8px;line-height:28.8px;color:#262626;font-weight:700;letter-spacing:0.696px;">Total Data Assets</div><div class="t" style="left:26.60px;top:80.00px;font-size:25.3px;line-height:25.3px;color:#6e6e6e;font-weight:400;letter-spacing:1.431px;">Display the latest number of data assets by type.</div><div class="t" style="left:1346.40px;top:34.00px;font-size:25.6px;line-height:25.6px;color:#262626;font-weight:400;letter-spacing:0.868px;-webkit-text-stroke:0.45px #262626;">Total Assets</div><div class="t" style="left:1349.00px;top:73.00px;font-size:44px;line-height:44px;color:#262626;font-weight:700;letter-spacing:0.000px;transform:scaleX(0.9998);transform-origin:0 0;">53<span class="o" style="width:17.38px;margin-right:0.000px"><svg width="17.38" height="31.20" viewBox="0 0 17.38 31.20"><path d="M3.08,0H13.16V31.20H7.17V5.59H3.08Z" fill="#262626"/></svg></span>8</div><div class="t" style="left:1816.00px;top:35.00px;font-size:25.7px;line-height:25.7px;color:#2e7b6d;font-weight:400;letter-spacing:0.000px;transform:scaleX(0.9788);transform-origin:0 0;">+3<span class="o" style="width:8.30px;margin-right:0.000px"><svg width="8.30" height="17.99" viewBox="0 0 8.30 17.99"><path d="M1.54,0H6.22V17.99H4.11V1.93H1.54Z" fill="#2e7b6d"/></svg></span><span class="o" style="width:8.30px;margin-right:0.000px"><svg width="8.30" height="17.99" viewBox="0 0 8.30 17.99"><path d="M1.54,0H6.22V17.99H4.11V1.93H1.54Z" fill="#2e7b6d"/></svg></span>82.35%</div><div class="t" style="left:1737.90px;top:75.00px;font-size:25.4px;line-height:25.4px;color:#262626;font-weight:400;letter-spacing:2.129px;">60-days change</div><div class="t" style="left:106.70px;top:977.00px;font-size:25.5px;line-height:25.5px;color:#666;font-weight:400;letter-spacing:0.000px;transform:scaleX(0.9085);transform-origin:0 0;">0</div><div class="t" style="left:75.55px;top:777.00px;font-size:25.5px;line-height:25.5px;color:#666;font-weight:400;letter-spacing:0.000px;transform:scaleX(0.9473);transform-origin:0 0;"><span class="o" style="width:8.24px;margin-right:0.000px"><svg width="8.24" height="17.85" viewBox="0 0 8.24 17.85"><path d="M1.53,0H6.17V17.85H4.08V1.91H1.53Z" fill="#666"/></svg></span>.5K</div><div class="t" style="left:92.10px;top:577.00px;font-size:25.5px;line-height:25.5px;color:#666;font-weight:400;letter-spacing:0.000px;transform:scaleX(0.8819);transform-origin:0 0;">3K</div><div class="t" style="left:69.30px;top:377.00px;font-size:25.5px;line-height:25.5px;color:#666;font-weight:400;letter-spacing:0.000px;transform:scaleX(0.9591);transform-origin:0 0;">4.5K</div><div class="t" style="left:91.00px;top:176.00px;font-size:25.5px;line-height:25.5px;color:#666;font-weight:400;letter-spacing:0.000px;transform:scaleX(0.9172);transform-origin:0 0;">6K</div><div class="t" style="left:102.40px;top:1001.00px;font-size:24.7px;line-height:24.7px;color:#666;font-weight:400;letter-spacing:1.011px;">Oct <span class="o" style="width:7.98px;margin-right:1.011px"><svg width="7.98" height="17.29" viewBox="0 0 7.98 17.29"><path d="M1.48,0H5.98V17.29H3.95V1.85H1.48Z" fill="#666"/></svg></span><span class="o" style="width:7.98px;margin-right:1.011px"><svg width="7.98" height="17.29" viewBox="0 0 7.98 17.29"><path d="M1.48,0H5.98V17.29H3.95V1.85H1.48Z" fill="#666"/></svg></span></div><div class="t" style="left:183.90px;top:1001.00px;font-size:24.7px;line-height:24.7px;color:#666;font-weight:400;letter-spacing:0.887px;">Oct <span class="o" style="width:7.98px;margin-right:0.887px"><svg width="7.98" height="17.29" viewBox="0 0 7.98 17.29"><path d="M1.48,0H5.98V17.29H3.95V1.85H1.48Z" fill="#666"/></svg></span>3</div><div class="t" style="left:306.70px;top:1001.00px;font-size:24.7px;line-height:24.7px;color:#666;font-weight:400;letter-spacing:1.335px;">Oct 24</div><div class="t" style="left:434.70px;top:1001.00px;font-size:24.7px;line-height:24.7px;color:#666;font-weight:400;letter-spacing:0.975px;">Oct 27</div><div class="t" style="left:560.30px;top:1001.00px;font-size:24.7px;line-height:24.7px;color:#666;font-weight:400;letter-spacing:1.375px;">Oct 30</div><div class="t" style="left:685.40px;top:1001.00px;font-size:24.7px;line-height:24.7px;color:#666;font-weight:400;letter-spacing:1.135px;">Nov 02</div><div class="t" style="left:811.80px;top:1001.00px;font-size:24.7px;line-height:24.7px;color:#666;font-weight:400;letter-spacing:1.135px;">Nov 05</div><div class="t" style="left:939.80px;top:1001.00px;font-size:24.7px;line-height:24.7px;color:#666;font-weight:400;letter-spacing:0.755px;">Nov 25</div><div class="t" style="left:1067.00px;top:1001.00px;font-size:24.7px;line-height:24.7px;color:#666;font-weight:400;letter-spacing:0.755px;">Nov 28</div><div class="t" style="left:1196.30px;top:1001.00px;font-size:24.7px;line-height:24.7px;color:#666;font-weight:400;letter-spacing:1.260px;">Dec 0<span class="o" style="width:7.98px;margin-right:1.260px"><svg width="7.98" height="17.29" viewBox="0 0 7.98 17.29"><path d="M1.48,0H5.98V17.29H3.95V1.85H1.48Z" fill="#666"/></svg></span></div><div class="t" style="left:1346.40px;top:269.00px;font-size:21.8px;line-height:21.8px;color:#262626;font-weight:400;letter-spacing:0.914px;">Tables</div><div class="t" style="left:1592.00px;top:269.00px;font-size:21.8px;line-height:21.8px;color:#262626;font-weight:400;letter-spacing:1.843px;">4984</div><div class="t" style="left:1346.40px;top:323.00px;font-size:21.8px;line-height:21.8px;color:#262626;font-weight:400;letter-spacing:1.439px;">Charts</div><div class="t" style="left:1612.09px;top:323.00px;font-size:21.8px;line-height:21.8px;color:#262626;font-weight:400;letter-spacing:1.322px;"><span class="o" style="width:7.04px;margin-right:1.322px"><svg width="7.04" height="15.26" viewBox="0 0 7.04 15.26"><path d="M1.31,0H5.28V15.26H3.49V1.64H1.31Z" fill="#262626"/></svg></span>36</div><div class="t" style="left:1346.40px;top:377.00px;font-size:21.8px;line-height:21.8px;color:#262626;font-weight:400;letter-spacing:1.558px;">DatabaseSchemas</div><div class="t" style="left:1621.00px;top:377.00px;font-size:21.8px;line-height:21.8px;color:#262626;font-weight:400;letter-spacing:0.777px;">75</div><div class="t" style="left:1346.40px;top:431.00px;font-size:21.8px;line-height:21.8px;color:#262626;font-weight:400;letter-spacing:1.495px;">Dashboards</div><div class="t" style="left:1622.60px;top:431.00px;font-size:21.8px;line-height:21.8px;color:#262626;font-weight:400;letter-spacing:-0.823px;">37</div><div class="t" style="left:1346.40px;top:485.00px;font-size:21.8px;line-height:21.8px;color:#262626;font-weight:400;letter-spacing:1.066px;">StoredProcedures</div><div class="t" style="left:1622.60px;top:485.00px;font-size:21.8px;line-height:21.8px;color:#262626;font-weight:400;letter-spacing:-0.823px;">22</div><div class="t" style="left:1346.40px;top:539.00px;font-size:21.8px;line-height:21.8px;color:#262626;font-weight:400;letter-spacing:1.598px;">Databases</div><div class="t" style="left:1627.50px;top:539.00px;font-size:21.8px;line-height:21.8px;color:#262626;font-weight:400;letter-spacing:-0.299px;">2<span class="o" style="width:7.04px;margin-right:-0.299px"><svg width="7.04" height="15.26" viewBox="0 0 7.04 15.26"><path d="M1.31,0H5.28V15.26H3.49V1.64H1.31Z" fill="#262626"/></svg></span></div><div class="t" style="left:1346.40px;top:593.00px;font-size:21.8px;line-height:21.8px;color:#262626;font-weight:400;letter-spacing:1.364px;">Containers</div><div class="t" style="left:1626.89px;top:593.00px;font-size:21.8px;line-height:21.8px;color:#262626;font-weight:400;letter-spacing:-0.033px;"><span class="o" style="width:7.04px;margin-right:-0.033px"><svg width="7.04" height="15.26" viewBox="0 0 7.04 15.26"><path d="M1.31,0H5.28V15.26H3.49V1.64H1.31Z" fill="#262626"/></svg></span>7</div><div class="t" style="left:1346.40px;top:647.00px;font-size:21.8px;line-height:21.8px;color:#262626;font-weight:400;letter-spacing:0.919px;">Topics</div><div class="t" style="left:1625.19px;top:647.00px;font-size:21.8px;line-height:21.8px;color:#262626;font-weight:400;letter-spacing:1.667px;"><span class="o" style="width:7.04px;margin-right:1.667px"><svg width="7.04" height="15.26" viewBox="0 0 7.04 15.26"><path d="M1.31,0H5.28V15.26H3.49V1.64H1.31Z" fill="#262626"/></svg></span>0</div><div class="t" style="left:1346.40px;top:701.00px;font-size:21.8px;line-height:21.8px;color:#262626;font-weight:400;letter-spacing:0.692px;">Pipelines</div><div class="t" style="left:1633.90px;top:701.00px;font-size:21.8px;line-height:21.8px;color:#262626;font-weight:400;letter-spacing:0.000px;">8</div><div class="t" style="left:1346.40px;top:755.00px;font-size:21.8px;line-height:21.8px;color:#262626;font-weight:400;letter-spacing:0.882px;">SearchIndexs</div><div class="t" style="left:1633.90px;top:755.00px;font-size:21.8px;line-height:21.8px;color:#262626;font-weight:400;letter-spacing:0.000px;">6</div><div class="t" style="left:1346.40px;top:809.00px;font-size:21.8px;line-height:21.8px;color:#262626;font-weight:400;letter-spacing:0.960px;">MlModels</div><div class="t" style="left:1633.90px;top:809.00px;font-size:21.8px;line-height:21.8px;color:#262626;font-weight:400;letter-spacing:0.000px;">2</div>
<div class="search"><svg width="40" height="40" style="position:absolute;left:14px;top:8px" viewBox="0 0 40 40"><circle cx="16.5" cy="15.5" r="9.8" fill="none" stroke="#bfbfbf" stroke-width="2"/><line x1="23.8" y1="22.8" x2="32" y2="31" stroke="#bfbfbf" stroke-width="2.2" stroke-linecap="round"/></svg></div>
<div class="t" style="left:1403.50px;top:191.00px;font-size:25.3px;line-height:25.3px;color:#bfbfbf;font-weight:400;letter-spacing:0.160px;">Search...</div>
<div class="bar" style="top:277px"><div class="fill" style="width:274.60px;background:#4d9de8"></div></div><div class="bar" style="top:331px"><div class="fill" style="width:7.49px;background:#4a68ac"></div></div><div class="bar" style="top:385px"><div class="fill" style="width:4.13px;background:#6aa792"></div></div><div class="bar" style="top:439px"><div class="fill" style="width:2.04px;background:#3b63e6"></div></div><div class="bar" style="top:493px"><div class="fill" style="width:1.21px;background:#95e2c6"></div></div><div class="bar" style="top:547px"><div class="fill" style="width:1.16px;background:#f1b446"></div></div><div class="bar" style="top:601px"><div class="fill" style="width:0.94px;background:#8948f2"></div></div><div class="bar" style="top:655px"><div class="fill" style="width:0.55px;background:#ed835d"></div></div><div class="bar" style="top:709px"><div class="fill" style="width:0.44px;background:#9c5280"></div></div><div class="bar" style="top:763px"><div class="fill" style="width:0.33px;background:#b872c4"></div></div><div class="bar" style="top:817px"><div class="fill" style="width:0.11px;background:#dd7631"></div></div>
<div class="tip"></div><div class="tipdiv"></div>
<div class="t" style="left:503.20px;top:445.00px;font-size:28.9px;line-height:28.9px;color:#222;font-weight:700;letter-spacing:0.292px;">Nov 6, 2023</div><div class="sw" style="top:527.5px;background:#4d9de8"></div><div class="t" style="left:538.00px;top:523.00px;font-size:26.2px;line-height:26.2px;color:#6c6c6c;font-weight:400;letter-spacing:1.478px;">Chart</div><div class="t" style="left:818.00px;top:523.00px;font-size:26.2px;line-height:26.2px;color:#222;font-weight:400;letter-spacing:0.328px;">35</div><div class="sw" style="top:563.5px;background:#4a68ac"></div><div class="t" style="left:538.00px;top:559.00px;font-size:26.2px;line-height:26.2px;color:#6c6c6c;font-weight:400;letter-spacing:0.683px;">Table</div><div class="t" style="left:785.70px;top:559.00px;font-size:26.2px;line-height:26.2px;color:#222;font-weight:400;letter-spacing:1.161px;">4938</div><div class="sw" style="top:599.5px;background:#6aa792"></div><div class="t" style="left:538.00px;top:595.00px;font-size:26.2px;line-height:26.2px;color:#6c6c6c;font-weight:400;letter-spacing:1.273px;">Database Schema</div><div class="t" style="left:817.10px;top:595.00px;font-size:26.2px;line-height:26.2px;color:#222;font-weight:400;letter-spacing:1.228px;">69</div><div class="sw" style="top:635.5px;background:#3b63e6"></div><div class="t" style="left:538.00px;top:631.00px;font-size:26.2px;line-height:26.2px;color:#6c6c6c;font-weight:400;letter-spacing:0.728px;">Stored Procedure</div><div class="t" style="left:820.00px;top:631.00px;font-size:26.2px;line-height:26.2px;color:#222;font-weight:400;letter-spacing:-1.672px;">22</div><div class="sw" style="top:671.5px;background:#95e2c6"></div><div class="t" style="left:538.00px;top:667.00px;font-size:26.2px;line-height:26.2px;color:#6c6c6c;font-weight:400;letter-spacing:1.487px;">Database</div><div class="t" style="left:818.00px;top:667.00px;font-size:26.2px;line-height:26.2px;color:#222;font-weight:400;letter-spacing:0.328px;">20</div><div class="sw" style="top:707.5px;background:#f1b446"></div><div class="t" style="left:538.00px;top:703.00px;font-size:26.2px;line-height:26.2px;color:#6c6c6c;font-weight:400;letter-spacing:1.399px;">Dashboard</div><div class="t" style="left:822.36px;top:703.00px;font-size:26.2px;line-height:26.2px;color:#222;font-weight:400;letter-spacing:1.895px;"><span class="o" style="width:8.65px;margin-right:1.895px"><svg width="8.65" height="18.34" viewBox="0 0 8.65 18.34"><path d="M1.44,0H6.92V18.34H4.06V2.31H1.44Z" fill="#222"/></svg></span>6</div><div class="sw" style="top:743.5px;background:#8948f2"></div><div class="t" style="left:538.00px;top:739.00px;font-size:26.2px;line-height:26.2px;color:#6c6c6c;font-weight:400;letter-spacing:0.833px;">Topic</div><div class="t" style="left:822.36px;top:739.00px;font-size:26.2px;line-height:26.2px;color:#222;font-weight:400;letter-spacing:1.895px;"><span class="o" style="width:8.65px;margin-right:1.895px"><svg width="8.65" height="18.34" viewBox="0 0 8.65 18.34"><path d="M1.44,0H6.92V18.34H4.06V2.31H1.44Z" fill="#222"/></svg></span>0</div><div class="sw" style="top:779.5px;background:#ed835d"></div><div class="t" style="left:538.00px;top:775.00px;font-size:26.2px;line-height:26.2px;color:#6c6c6c;font-weight:400;letter-spacing:0.505px;">Ml Model</div><div class="t" style="left:832.90px;top:775.00px;font-size:26.2px;line-height:26.2px;color:#222;font-weight:400;letter-spacing:0.000px;">2</div><div class="sw" style="top:815.5px;background:#9c5280"></div><div class="t" style="left:538.00px;top:811.00px;font-size:26.2px;line-height:26.2px;color:#6c6c6c;font-weight:400;letter-spacing:0.450px;">Pipeline</div><div class="t" style="left:832.90px;top:811.00px;font-size:26.2px;line-height:26.2px;color:#222;font-weight:400;letter-spacing:0.000px;">8</div><div class="sw" style="top:851.5px;background:#b872c4"></div><div class="t" style="left:538.00px;top:847.00px;font-size:26.2px;line-height:26.2px;color:#6c6c6c;font-weight:400;letter-spacing:0.619px;">Search Index</div><div class="t" style="left:832.90px;top:847.00px;font-size:26.2px;line-height:26.2px;color:#222;font-weight:400;letter-spacing:0.000px;">6</div><div class="sw" style="top:887.5px;background:#dd7631"></div><div class="t" style="left:538.00px;top:883.00px;font-size:26.2px;line-height:26.2px;color:#6c6c6c;font-weight:400;letter-spacing:1.303px;">Container</div><div class="t" style="left:823.66px;top:883.00px;font-size:26.2px;line-height:26.2px;color:#222;font-weight:400;letter-spacing:0.595px;"><span class="o" style="width:8.65px;margin-right:0.595px"><svg width="8.65" height="18.34" viewBox="0 0 8.65 18.34"><path d="M1.44,0H6.92V18.34H4.06V2.31H1.44Z" fill="#222"/></svg></span>7</div>
</div></body></html>
